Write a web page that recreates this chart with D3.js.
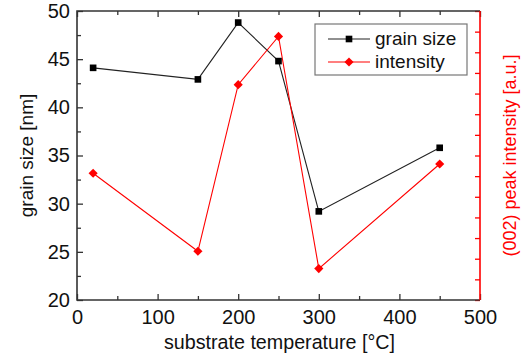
<!DOCTYPE html>
<html>
<head>
<meta charset="utf-8">
<title>grain size vs temperature</title>
<script src="https://cdn.jsdelivr.net/npm/d3@7"></script>
<style>
  body { margin: 0; background: #fff; overflow: hidden; }
  text { font-family: Arial, "Liberation Sans", sans-serif; }
</style>
</head>
<body>
<div id="chart"></div>
<script>
// data
var temperature = [20, 150, 200, 250, 300, 450];
var grainSize = [44.1, 42.9, 48.8, 44.8, 29.2, 35.8];
var intensity = [6.14, 2.36, 10.43, 12.77, 1.52, 6.59];   // arbitrary units, no labels on the right axis
var xTicks = [0, 100, 200, 300, 400, 500];
var yTicks = [20, 25, 30, 35, 40, 45, 50];
var seriesNames = ["grain size", "intensity"];

var W = 524, H = 358;
var m = { left: 77, right: 44, top: 11, bottom: 58 };
var pw = W - m.left - m.right, ph = H - m.top - m.bottom;

var svg = d3.select("#chart").append("svg").attr("width", W).attr("height", H);
var g = svg.append("g").attr("transform", "translate(" + m.left + "," + m.top + ")");

var x = d3.scaleLinear().domain([0, 500]).range([0, pw]);
var y = d3.scaleLinear().domain([20, 50]).range([ph, 0]);
var y2 = d3.scaleLinear().domain([0, 14]).range([ph, 0]);

var axisCol = "#333";

// minor + major ticks, all inward
function drawAxis(axis, tr, col) {
  var a = g.append("g").attr("transform", tr).call(axis);
  a.select(".domain").remove();
  a.selectAll("line").attr("stroke", col).attr("stroke-width", 1.3);
  return a;
}
// bottom
drawAxis(d3.axisBottom(x).tickValues(d3.range(50, 500, 100)).tickSize(-4).tickFormat(""), "translate(0," + ph + ")", axisCol);
var bx = drawAxis(d3.axisBottom(x).tickValues(xTicks).tickSize(-6).tickPadding(10), "translate(0," + ph + ")", axisCol);
bx.selectAll("text").attr("font-size", 20).attr("fill", "#111");
// top
drawAxis(d3.axisTop(x).tickValues(d3.range(50, 500, 100)).tickSize(-4).tickFormat(""), "", axisCol);
drawAxis(d3.axisTop(x).tickValues(xTicks).tickSize(-6).tickFormat(""), "", axisCol);
// left
drawAxis(d3.axisLeft(y).tickValues(d3.range(22.5, 50, 5)).tickSize(-4).tickFormat(""), "", axisCol);
var ly = drawAxis(d3.axisLeft(y).tickValues(yTicks).tickSize(-6).tickPadding(7), "", axisCol);
ly.selectAll("text").attr("font-size", 20).attr("fill", "#111");
// right (red, no labels)
drawAxis(d3.axisRight(y2).ticks(14).tickSize(-5).tickFormat(""), "translate(" + pw + ",0)", "#f00");

// frame
g.append("path").attr("d", "M" + pw + ",0H0V" + ph + "H" + pw)
  .attr("fill", "none").attr("stroke", axisCol).attr("stroke-width", 1.6);
g.append("line").attr("x1", pw).attr("x2", pw).attr("y1", 0).attr("y2", ph)
  .attr("stroke", "#f00").attr("stroke-width", 1.6);

// axis titles
svg.append("text").attr("x", m.left + pw / 2 + 1).attr("y", 349).attr("text-anchor", "middle")
  .attr("font-size", 19.7).attr("fill", "#111").text("substrate temperature [°C]");
svg.append("text").attr("transform", "translate(33," + (m.top + ph / 2) + ") rotate(-90)")
  .attr("text-anchor", "middle").attr("font-size", 19).attr("fill", "#111").text("grain size [nm]");
svg.append("text").attr("transform", "translate(516," + (m.top + ph / 2) + ") rotate(-90)")
  .attr("text-anchor", "middle").attr("font-size", 18).attr("fill", "#f00").text("(002) peak intensity [a.u.]");

// series
var pts1 = temperature.map(function (t, i) { return [x(t), y(grainSize[i])]; });
var pts2 = temperature.map(function (t, i) { return [x(t), y2(intensity[i])]; });
var line = d3.line();
var square = d3.symbol().type(d3.symbolSquare).size(44);
var diamond = d3.symbol().type(d3.symbolSquare).size(42);   // rotated 45deg below

g.append("path").attr("d", line(pts1)).attr("fill", "none").attr("stroke", "#222").attr("stroke-width", 1.1);
g.append("path").attr("d", line(pts2)).attr("fill", "none").attr("stroke", "#f00").attr("stroke-width", 1.1);
g.selectAll(".sq").data(pts1).enter().append("path")
  .attr("transform", function (d) { return "translate(" + d[0] + "," + d[1] + ")"; })
  .attr("d", square).attr("fill", "#000");
g.selectAll(".dm").data(pts2).enter().append("path")
  .attr("transform", function (d) { return "translate(" + d[0] + "," + d[1] + ") rotate(45)"; })
  .attr("d", diamond).attr("fill", "#f00");

// legend
var lg = svg.append("g").attr("transform", "translate(315,24)");
lg.append("rect").attr("width", 152).attr("height", 51).attr("fill", "#fff")
  .attr("stroke", "#777").attr("stroke-width", 1.2);
var cols = ["#222", "#f00"], marks = [square, diamond], fills = ["#000", "#f00"], rots = ["", " rotate(45)"];
seriesNames.forEach(function (n, i) {
  var ry = 15 + i * 23;
  lg.append("line").attr("x1", 13).attr("x2", 55).attr("y1", ry).attr("y2", ry)
    .attr("stroke", cols[i]).attr("stroke-width", 1.1);
  lg.append("path").attr("transform", "translate(34," + ry + ")" + rots[i]).attr("d", marks[i]).attr("fill", fills[i]);
  lg.append("text").attr("x", 60).attr("y", ry + 6).attr("font-size", 19).attr("fill", "#111").text(n);
});
</script>
</body>
</html>
